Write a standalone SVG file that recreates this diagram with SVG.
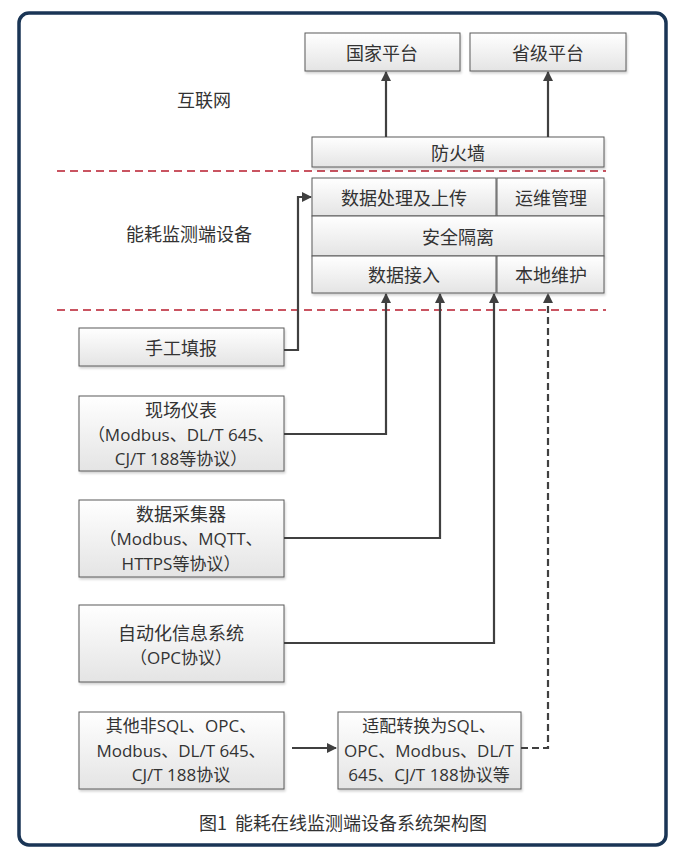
<svg xmlns="http://www.w3.org/2000/svg" width="691" height="862" viewBox="0 0 691 862">
<defs>
<linearGradient id="g" x1="0" y1="0" x2="0" y2="1">
<stop offset="0" stop-color="#ffffff"/>
<stop offset="1" stop-color="#e4e4e4"/>
</linearGradient>
<filter id="sh" x="-5%" y="-5%" width="110%" height="120%">
<feDropShadow dx="1" dy="2" stdDeviation="1" flood-color="#000" flood-opacity="0.18"/>
</filter>
<marker id="ah" viewBox="0 0 10 10" refX="9" refY="5" markerWidth="10" markerHeight="10" markerUnits="userSpaceOnUse" orient="auto">
<path d="M0,0 L10,5 L0,10 Z" fill="#404040"/>
</marker>
</defs>
<style>
.box{fill:url(#g);stroke:#5a5a5a;stroke-width:1;filter:url(#sh)}
.t{font-family:"Noto Sans CJK SC","Open Sans",sans-serif;font-size:18px;fill:#333;text-anchor:middle;dominant-baseline:central}
.m{font-family:"Open Sans","Noto Sans CJK SC",sans-serif;font-size:17px;fill:#333;text-anchor:middle;dominant-baseline:central}
.lbl{font-family:"Noto Sans CJK SC",sans-serif;font-size:18px;fill:#333;text-anchor:middle;dominant-baseline:central}
.c{fill:none;stroke:#404040;stroke-width:2.2}
.red{stroke:#b81d2e;stroke-width:1.3;stroke-dasharray:8 5}
</style>
<rect width="691" height="862" fill="#fff"/>
<rect x="19" y="13" width="647" height="832" rx="10" fill="#fff" stroke="#1a3555" stroke-width="3.5"/>

<line class="red" x1="57" y1="171" x2="606" y2="171"/>
<line class="red" x1="57" y1="310" x2="606" y2="310"/>
<text class="lbl" x="204" y="99">互联网</text>
<text class="lbl" x="189" y="233">能耗监测端设备</text>

<g id="n-guojia"><rect class="box" x="305" y="33" width="155" height="38"/><text class="t" x="382" y="52">国家平台</text></g>
<g id="n-shengji"><rect class="box" x="470" y="33" width="156" height="38"/><text class="t" x="548" y="52">省级平台</text></g>
<g id="n-fanghuoqiang"><rect class="box" x="312" y="137" width="292" height="30"/><text class="t" x="458" y="152">防火墙</text></g>
<g id="n-chuli"><rect class="box" x="312" y="178" width="184" height="38"/><text class="t" x="404" y="197">数据处理及上传</text></g>
<g id="n-yunwei"><rect class="box" x="497" y="178" width="107" height="38"/><text class="t" x="551" y="197">运维管理</text></g>
<g id="n-anquan"><rect class="box" x="312" y="216" width="292" height="40"/><text class="t" x="458" y="236">安全隔离</text></g>
<g id="n-jieru"><rect class="box" x="312" y="256" width="184" height="37"/><text class="t" x="404" y="274">数据接入</text></g>
<g id="n-bendi"><rect class="box" x="497" y="256" width="107" height="37"/><text class="t" x="551" y="274">本地维护</text></g>

<g id="n-shougong"><rect class="box" x="79" y="328" width="205" height="38"/><text class="t" x="181" y="347">手工填报</text></g>
<g id="n-xianchang"><rect class="box" x="79" y="396" width="205" height="75"/>
<text class="t" x="181" y="409">现场仪表</text>
<text class="m" x="181" y="434">（Modbus、DL/T 645、</text>
<text class="m" x="181" y="458">CJ/T 188等协议）</text></g>
<g id="n-caiji"><rect class="box" x="79" y="500" width="205" height="77"/>
<text class="t" x="181" y="513">数据采集器</text>
<text class="m" x="181" y="538">（Modbus、MQTT、</text>
<text class="m" x="181" y="563">HTTPS等协议）</text></g>
<g id="n-zidonghua"><rect class="box" x="79" y="605" width="205" height="77"/>
<text class="t" x="181" y="632">自动化信息系统</text>
<text class="m" x="181" y="657">（OPC协议）</text></g>
<g id="n-qita"><rect class="box" x="79" y="712" width="205" height="77"/>
<text class="m" x="181" y="725">其他非SQL、OPC、</text>
<text class="m" x="181" y="750">Modbus、DL/T 645、</text>
<text class="m" x="181" y="774">CJ/T 188协议</text></g>
<g id="n-shipei"><rect class="box" x="338" y="712" width="183" height="77"/>
<text class="m" x="429" y="725">适配转换为SQL、</text>
<text class="m" x="429" y="750">OPC、Modbus、DL/T</text>
<text class="m" x="429" y="774">645、CJ/T 188协议等</text></g>

<g id="connectors">
<line class="c" x1="386" y1="137" x2="386" y2="72" stroke-width="3" marker-end="url(#ah)"/>
<line class="c" x1="548" y1="137" x2="548" y2="72" stroke-width="1.5" marker-end="url(#ah)"/>
<polyline class="c" points="284,350 298,350 298,197 311,197" marker-end="url(#ah)"/>
<polyline class="c" points="284,434 386,434 386,294" marker-end="url(#ah)"/>
<polyline class="c" points="284,538 440,538 440,294" marker-end="url(#ah)"/>
<polyline class="c" points="284,643 494,643 494,294" marker-end="url(#ah)"/>
<line class="c" x1="292" y1="748" x2="336" y2="748" marker-end="url(#ah)"/>
<polyline class="c" points="521,748 548,748 548,294" stroke-dasharray="7 4" marker-end="url(#ah)"/>
</g>

<text x="343" y="822" font-family="Noto Sans CJK SC, sans-serif" font-size="18" fill="#333" text-anchor="middle" dominant-baseline="central" xml:space="preserve">图1  能耗在线监测端设备系统架构图</text>
</svg>
